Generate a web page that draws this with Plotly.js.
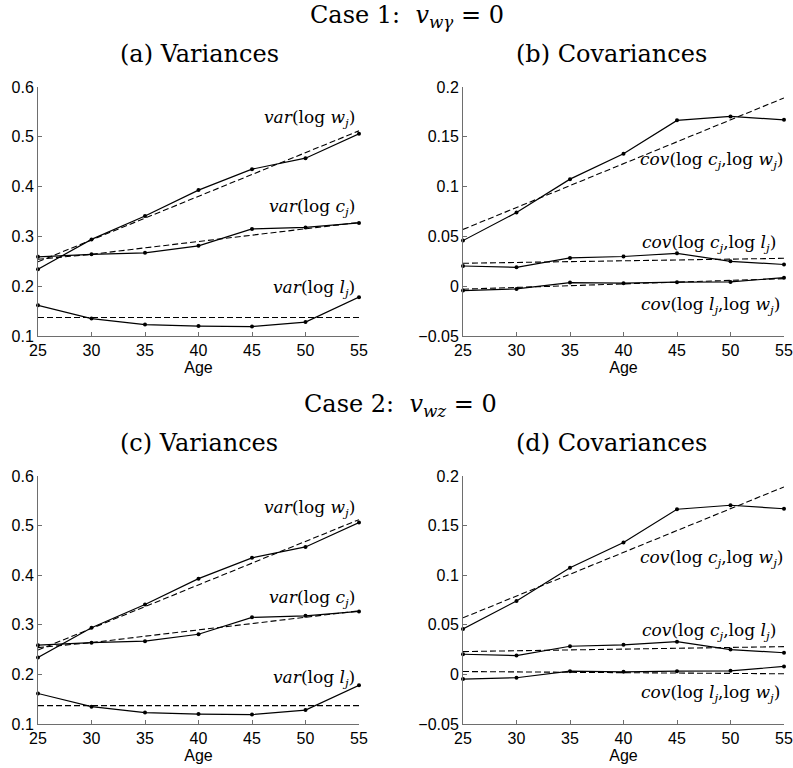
<!DOCTYPE html>
<html>
<head>
<meta charset="utf-8">
<script src="https://cdn.plot.ly/plotly-3.0.1.min.js"></script>
<style>
  html, body { margin: 0; padding: 0; background: #fff; }
  #chart { width: 793px; height: 768px; }
</style>
</head>
<body>
<div id="chart"></div>
<script>
// Age grid shared by all panels
const ages = [25, 30, 35, 40, 45, 50, 55];

// Case 1: data (solid) and fitted (dashed) variance profiles
const c1VarW    = [0.234, 0.294, 0.341, 0.393, 0.435, 0.457, 0.506];
const c1VarWFit = [0.249, 0.293, 0.337, 0.381, 0.424, 0.468, 0.512];
const c1VarC    = [0.259, 0.264, 0.267, 0.281, 0.315, 0.318, 0.327];
const c1VarCFit = [0.254, 0.264, 0.277, 0.290, 0.303, 0.316, 0.328];
const c1VarL    = [0.1615, 0.135, 0.123, 0.120, 0.119, 0.128, 0.178];
const c1VarLFit = [0.137, 0.137, 0.137, 0.137, 0.137, 0.137, 0.137];

// Case 1: covariance profiles
const c1CovCW    = [0.0458, 0.074, 0.1075, 0.133, 0.1665, 0.1705, 0.167];
const c1CovCWFit = [0.057, 0.079, 0.101, 0.123, 0.145, 0.167, 0.189];
const c1CovCL    = [0.0203, 0.019, 0.0284, 0.0298, 0.033, 0.025, 0.0218];
const c1CovCLFit = [0.023, 0.0238, 0.0247, 0.0255, 0.0263, 0.0272, 0.028];
const c1CovLW    = [-0.0044, -0.0027, 0.0036, 0.003, 0.004, 0.0043, 0.0086];
const c1CovLWFit = [-0.003, -0.0012, 0.0005, 0.0023, 0.004, 0.0058, 0.0076];

// Case 2: variance profiles
const c2VarW    = [0.234, 0.294, 0.341, 0.393, 0.435, 0.457, 0.506];
const c2VarWFit = [0.249, 0.293, 0.337, 0.381, 0.424, 0.468, 0.512];
const c2VarC    = [0.259, 0.264, 0.267, 0.281, 0.315, 0.318, 0.327];
const c2VarCFit = [0.254, 0.264, 0.277, 0.290, 0.303, 0.316, 0.328];
const c2VarL    = [0.1615, 0.135, 0.123, 0.120, 0.119, 0.128, 0.178];
const c2VarLFit = [0.137, 0.137, 0.137, 0.137, 0.137, 0.137, 0.137];

// Case 2: covariance profiles
const c2CovCW    = [0.0458, 0.074, 0.1075, 0.133, 0.1665, 0.1705, 0.167];
const c2CovCWFit = [0.057, 0.079, 0.101, 0.123, 0.145, 0.167, 0.189];
const c2CovCL    = [0.0203, 0.019, 0.0284, 0.0298, 0.033, 0.025, 0.0218];
const c2CovCLFit = [0.023, 0.0238, 0.0247, 0.0255, 0.0263, 0.0272, 0.028];
const c2CovLW    = [-0.0047, -0.0034, 0.0033, 0.0026, 0.0033, 0.0036, 0.008];
const c2CovLWFit = [0.0029, 0.0025, 0.0021, 0.0017, 0.0014, 0.001, 0.0006];

// Axis tick labels
const ageTicks = [25, 30, 35, 40, 45, 50, 55];
const varTicks = [0.1, 0.2, 0.3, 0.4, 0.5, 0.6];
const varTickText = ['0.1', '0.2', '0.3', '0.4', '0.5', '0.6'];
const covTicks = [-0.05, 0, 0.05, 0.1, 0.15, 0.2];
const covTickText = ['\u22120.05', '0', '0.05', '0.1', '0.15', '0.2'];

const W = 793, H = 768;
const px = x => x / W;          // pixel -> paper x
const py = y => 1 - y / H;      // pixel -> paper y

function solid(y, xa, ya) {
  return {
    x: ages, y: y, xaxis: xa, yaxis: ya, type: 'scatter', mode: 'lines+markers',
    line: {color: '#000', width: 1.2}, marker: {color: '#000', size: 4},
    cliponaxis: false, showlegend: false, hoverinfo: 'skip'
  };
}
function dashed(y, xa, ya) {
  return {
    x: ages, y: y, xaxis: xa, yaxis: ya, type: 'scatter', mode: 'lines',
    line: {color: '#000', width: 1.1, dash: '6px,3px'},
    cliponaxis: false, showlegend: false, hoverinfo: 'skip'
  };
}

const traces = [
  solid(c1VarW, 'x', 'y'), dashed(c1VarWFit, 'x', 'y'),
  solid(c1VarC, 'x', 'y'), dashed(c1VarCFit, 'x', 'y'),
  solid(c1VarL, 'x', 'y'), dashed(c1VarLFit, 'x', 'y'),
  solid(c1CovCW, 'x2', 'y2'), dashed(c1CovCWFit, 'x2', 'y2'),
  solid(c1CovCL, 'x2', 'y2'), dashed(c1CovCLFit, 'x2', 'y2'),
  solid(c1CovLW, 'x2', 'y2'), dashed(c1CovLWFit, 'x2', 'y2'),
  solid(c2VarW, 'x3', 'y3'), dashed(c2VarWFit, 'x3', 'y3'),
  solid(c2VarC, 'x3', 'y3'), dashed(c2VarCFit, 'x3', 'y3'),
  solid(c2VarL, 'x3', 'y3'), dashed(c2VarLFit, 'x3', 'y3'),
  solid(c2CovCW, 'x4', 'y4'), dashed(c2CovCWFit, 'x4', 'y4'),
  solid(c2CovCL, 'x4', 'y4'), dashed(c2CovCLFit, 'x4', 'y4'),
  solid(c2CovLW, 'x4', 'y4'), dashed(c2CovLWFit, 'x4', 'y4')
];

const axisColor = '#6e6e6e';
const tickFont = {family: 'Liberation Sans, Arial, sans-serif', size: 16, color: '#000'};

function xAxis(domain, anchor) {
  return {
    domain: domain, anchor: anchor, range: [25, 55],
    tickvals: ageTicks, ticktext: ageTicks.map(String),
    showline: true, linecolor: axisColor, linewidth: 1,
    ticks: 'inside', ticklen: 4, tickcolor: axisColor, tickwidth: 1,
    showgrid: false, zeroline: false, tickfont: tickFont,
    title: {text: 'Age', font: tickFont, standoff: 2}
  };
}
function yAxis(domain, anchor, range, vals, text) {
  return {
    domain: domain, anchor: anchor, range: range,
    tickvals: vals, ticktext: text,
    showline: true, linecolor: axisColor, linewidth: 1,
    ticks: 'inside', ticklen: 4, tickcolor: axisColor, tickwidth: 1,
    showgrid: false, zeroline: false, tickfont: tickFont
  };
}

const leftDom = [px(38), px(359)];
const rightDom = [px(463), px(784)];
const topDom = [py(336), py(87)];
const botDom = [py(724), py(476)];

const serif = 'DejaVu Serif, serif';
const titleFont = {family: serif, size: 24, color: '#000'};
const labelFont = {family: serif, size: 17, color: '#000'};

function note(text, x, y, font, anchor) {
  return {
    text: text, xref: 'paper', yref: 'paper', x: px(x), y: py(y),
    xanchor: anchor || 'center', yanchor: 'middle', showarrow: false, font: font
  };
}

const vW = '<i>var</i>(log <i>w</i><sub><i>j</i></sub>)';
const vC = '<i>var</i>(log <i>c</i><sub><i>j</i></sub>)';
const vL = '<i>var</i>(log <i>l</i><sub><i>j</i></sub>)';
const cCW = '<i>cov</i>(log <i>c</i><sub><i>j</i></sub>,log <i>w</i><sub><i>j</i></sub>)';
const cCL = '<i>cov</i>(log <i>c</i><sub><i>j</i></sub>,log <i>l</i><sub><i>j</i></sub>)';
const cLW = '<i>cov</i>(log <i>l</i><sub><i>j</i></sub>,log <i>w</i><sub><i>j</i></sub>)';

const annotations = [
  note('Case 1:  <i>v</i><sub><i>w\u03b3</i></sub> = 0', 407, 16, titleFont),
  note('(a) Variances', 199, 54, titleFont),
  note('(b) Covariances', 611, 54, titleFont),
  note('Case 2:  <i>v</i><sub><i>wz</i></sub> = 0', 400, 405, titleFont),
  note('(c) Variances', 199, 443, titleFont),
  note('(d) Covariances', 611, 443, titleFont),

  note(vW, 357, 118, labelFont, 'right'),
  note(vC, 357, 208, labelFont, 'right'),
  note(vL, 357, 288, labelFont, 'right'),
  note(cCW, 785, 160, labelFont, 'right'),
  note(cCL, 778, 243, labelFont, 'right'),
  note(cLW, 782, 305, labelFont, 'right'),

  note(vW, 357, 508, labelFont, 'right'),
  note(vC, 357, 598, labelFont, 'right'),
  note(vL, 357, 678, labelFont, 'right'),
  note(cCW, 785, 558, labelFont, 'right'),
  note(cCL, 778, 631, labelFont, 'right'),
  note(cLW, 782, 693, labelFont, 'right')
];

const layout = {
  width: W, height: H,
  margin: {l: 0, r: 0, t: 0, b: 0},
  paper_bgcolor: '#fff', plot_bgcolor: '#fff',
  showlegend: false,
  xaxis: xAxis(leftDom, 'y'),
  yaxis: yAxis(topDom, 'x', [0.1, 0.6], varTicks, varTickText),
  xaxis2: xAxis(rightDom, 'y2'),
  yaxis2: yAxis(topDom, 'x2', [-0.05, 0.2], covTicks, covTickText),
  xaxis3: xAxis(leftDom, 'y3'),
  yaxis3: yAxis(botDom, 'x3', [0.1, 0.6], varTicks, varTickText),
  xaxis4: xAxis(rightDom, 'y4'),
  yaxis4: yAxis(botDom, 'x4', [-0.05, 0.2], covTicks, covTickText),
  annotations: annotations
};

Plotly.newPlot('chart', traces, layout, {displayModeBar: false, staticPlot: true});
</script>
</body>
</html>
